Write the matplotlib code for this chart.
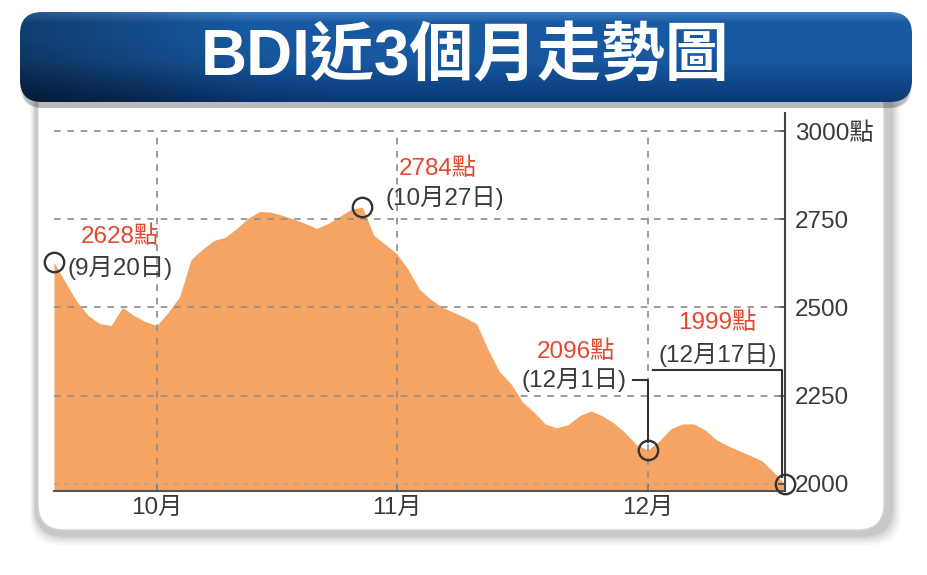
import numpy as np
import matplotlib
matplotlib.use("Agg")
import matplotlib.pyplot as plt
from matplotlib.patches import FancyBboxPatch

plt.rcParams['font.family'] = ['Liberation Sans', 'Noto Sans CJK TC']

# ---------------- data (trading-day index from 9/20 to 12/17) ----------------
bdi = [2628, 2571, 2517, 2477, 2454, 2449, 2500, 2477, 2460, 2449,
       2486, 2531, 2636, 2665, 2690, 2699, 2724, 2753, 2772, 2770,
       2761, 2750, 2738, 2724, 2738, 2758, 2778, 2784, 2704, 2679,
       2653, 2608, 2551, 2523, 2500, 2486, 2471, 2454, 2381, 2318,
       2284, 2233, 2204, 2170, 2159, 2168, 2193, 2207, 2193, 2173,
       2145, 2111, 2096, 2122, 2156, 2170, 2170, 2153, 2125, 2108,
       2094, 2080, 2065, 2034, 1999]
month_idx = [9, 30, 52]
month_labels = ['10月', '11月', '12月']
y_ticks = [2000, 2250, 2500, 2750, 3000]
y_labels = ['2000', '2250', '2500', '2750', '3000點']
marked_idx = [0, 27, 52, 64]
marked_val = ['2628點', '2784點', '2096點', '1999點']
marked_date = ['(9月20日)', '(10月27日)', '(12月1日)', '(12月17日)']
title = 'BDI近3個月走勢圖'

x = np.arange(len(bdi))

W, H = 927, 575
fig = plt.figure(figsize=(W / 100, H / 100), dpi=100)
fig.patch.set_facecolor('white')

# ---------------- background decoration (pixel coords) ----------------
bg = fig.add_axes([0, 0, 1, 1], zorder=0)
bg.set_xlim(0, W)
bg.set_ylim(H, 0)
bg.axis('off')

# panel shadow
for k, a in enumerate([0.05, 0.07, 0.09, 0.12, 0.16]):
    g = 10 - 2 * k
    sh = FancyBboxPatch((36 - g * 0.6, 80), 855 + g * 1.6, 455 + g,
                        boxstyle="round,pad=0,rounding_size=30",
                        fc='#7a7a7a', ec='none', alpha=a)
    bg.add_patch(sh)
panel = FancyBboxPatch((38, 80), 846, 450,
                       boxstyle="round,pad=0,rounding_size=26",
                       fc='white', ec='#d4d4d4', lw=1.0)
bg.add_patch(panel)

# banner shadow
for k, a in enumerate([0.08, 0.12, 0.18]):
    s = FancyBboxPatch((20 + k, 16 + k), 892 - 2 * k, 92 - k,
                       boxstyle="round,pad=0,rounding_size=22",
                       fc='#333333', ec='none', alpha=a)
    bg.add_patch(s)

# banner with gradient
bx0, by0, bw, bh = 20, 12, 892, 90
banner = FancyBboxPatch((bx0, by0), bw, bh,
                        boxstyle="round,pad=0,rounding_size=22",
                        fc='none', ec='none')
bg.add_patch(banner)
rows, cols = 90, 400
top = np.array([0x3d, 0x7c, 0xc0]) / 255
mid = np.array([0x17, 0x58, 0xa0]) / 255
bot = np.array([0x0a, 0x38, 0x74]) / 255
t = np.linspace(0, 1, rows)[:, None]
col_v = np.where(t < 0.12, top + (mid - top) * (t / 0.12),
                 mid + (bot - mid) * np.clip((t - 0.55) / 0.45, 0, 1))
u = np.linspace(0, 1, cols)
hfac = 1 - 0.3 * np.clip((0.25 - u) / 0.25, 0, 1)
img = col_v[:, None, :] * hfac[None, :, None]
dark = 1 - 0.35 * np.clip((0.35 - u)[None, :] / 0.35, 0, 1) * np.clip((t - 0.3) / 0.7, 0, 1)
img = img * dark[:, :, None]
im = bg.imshow(np.clip(img, 0, 1), extent=(bx0, bx0 + bw, by0 + bh, by0),
               aspect='auto', zorder=2, interpolation='bilinear')
im.set_clip_path(banner)

bg.text(465, 57, title, color='white', fontsize=46, fontweight='bold',
        ha='center', va='center', family=['Liberation Sans', 'Noto Sans CJK TC'],
        zorder=3)

# ---------------- main chart ----------------
ax = fig.add_axes([54 / W, 1 - 491 / H, (785 - 54) / W, (491 - 113) / H],
                  zorder=2)
ax.set_facecolor('none')
ylo, yhi = 1980, 3051
ax.set_xlim(0, len(bdi) - 1)
ax.set_ylim(ylo, yhi)

ax.fill_between(x, bdi, ylo, color='#f5a464', lw=0, zorder=1)

gcol = '#8c8c8c'
for yv in y_ticks:
    if yv == 2000:
        ax.axhline(yv, color='#a8a8a8', lw=1.2, ls=(0, (2.5, 3.5)), zorder=2)
    else:
        ax.axhline(yv, color=gcol, lw=1.2, ls=(0, (4, 4)), zorder=2)
for xv in month_idx:
    ax.plot([xv, xv], [ylo, 3000], color=gcol, lw=1.2, ls=(0, (4, 4)), zorder=2)

for s in ['left', 'top']:
    ax.spines[s].set_visible(False)
ax.spines['right'].set_color('#444444')
ax.spines['right'].set_linewidth(1.5)
ax.spines['bottom'].set_color('#555555')
ax.spines['bottom'].set_linewidth(1.5)
ax.spines['right'].set_zorder(4)

ax.yaxis.tick_right()
ax.set_yticks(y_ticks)
ax.set_yticklabels(y_labels)
ax.tick_params(axis='y', direction='in', length=5, width=1.2, color='#444444',
               labelsize=17.5, labelcolor='#3a3a3a', pad=7)
ax.set_xticks(month_idx)
ax.set_xticklabels(month_labels)
ax.tick_params(axis='x', direction='in', length=5, width=1.2, color='#444444',
               labelsize=17.5, labelcolor='#3a3a3a', pad=4)

# markers
ax.plot([x[i] for i in marked_idx], [bdi[i] for i in marked_idx], 'o',
        ms=14, mfc='none', mec='#333333', mew=1.7, clip_on=False, zorder=6)

red = '#e2492f'
dk = '#3a3a3a'
fs = 17.5
# 9/20
ax.text(5.75, 2700, marked_val[0], color=red, fontsize=fs, ha='center', va='center')
ax.text(5.75, 2612, marked_date[0], color=dk, fontsize=fs, ha='center', va='center')
# 10/27
ax.text(33.6, 2893, marked_val[1], color=red, fontsize=fs, ha='center', va='center')
ax.text(34.2, 2810, marked_date[1], color=dk, fontsize=fs, ha='center', va='center')
# 12/1
ax.text(45.7, 2376, marked_val[2], color=red, fontsize=fs, ha='center', va='center')
ax.text(45.5, 2295, marked_date[2], color=dk, fontsize=fs, ha='center', va='center')
ax.plot([50.7, 52, 52], [2295, 2295, 2118], color='#333333', lw=1.5, zorder=5)
# 12/17
ax.text(58.1, 2458, marked_val[3], color=red, fontsize=fs, ha='center', va='center')
ax.text(58.1, 2366, marked_date[3], color=dk, fontsize=fs, ha='center', va='center')
ax.plot([52.4, 63.7, 63.7], [2322, 2322, 2020], color='#333333', lw=1.5, zorder=5)

fig.savefig('out.png', dpi=100, facecolor='white')
